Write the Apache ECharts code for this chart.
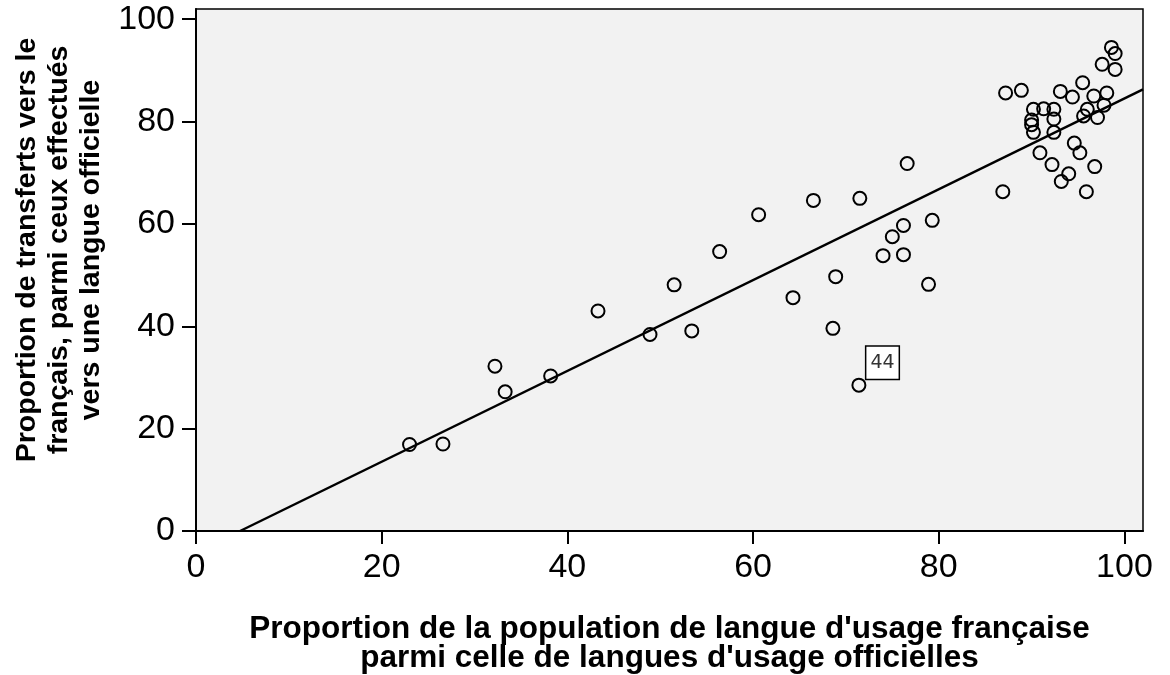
<!DOCTYPE html>
<html>
<head>
<meta charset="utf-8">
<script src="https://cdn.jsdelivr.net/npm/echarts@6/dist/echarts.min.js"></script>
<style>
  html, body { margin: 0; padding: 0; background: #fff; }
  #chart { width: 1170px; height: 675px; }
</style>
</head>
<body>
<div id="chart"></div>
<script>
// proportion de langue d'usage française (x) et transferts vers le français (y)
var pointsX = [23.0, 26.6, 32.2, 33.3, 38.2, 43.3, 48.9, 51.5, 53.4, 56.4,
  60.6, 64.3, 66.5, 68.6, 68.9, 71.5, 71.4, 74.0, 75.0, 76.2,
  76.2, 76.6, 78.9, 79.3, 86.9, 87.2, 88.9, 90.0, 90.0, 90.2,
  90.2, 90.9, 91.3, 92.2, 92.4, 92.4, 92.4, 93.1, 93.2, 94.0,
  94.4, 94.6, 95.2, 95.5, 95.6, 95.9, 96.0, 96.7, 96.8, 97.1,
  97.6, 97.8, 98.1, 98.6, 99.0, 99.0];
var pointsY = [16.9, 17.0, 32.2, 27.2, 30.3, 43.0, 38.4, 48.1, 39.1, 54.6,
  61.8, 45.6, 64.6, 39.6, 49.7, 65.0, 28.5, 53.8, 57.5, 59.7,
  54.0, 71.8, 48.2, 60.7, 66.3, 85.6, 86.1, 80.3, 79.4, 77.9,
  82.4, 73.9, 82.5, 71.6, 82.4, 80.5, 77.9, 85.9, 68.3, 69.8,
  84.8, 75.8, 73.9, 87.6, 81.1, 66.3, 82.4, 85.0, 71.2, 80.8,
  91.2, 83.2, 85.6, 94.5, 93.3, 90.2];
// point étiqueté (numéro de cas)
var labelIndex = [16];
var labelText = ['44'];
// droite d'ajustement (extrémités)
var fitX = [4.75, 102];
var fitY = [0, 86.3];
var tickValues = [0, 20, 40, 60, 80, 100];

var myChart = echarts.init(document.getElementById('chart'));

var scatterData = pointsX.map(function (x, i) {
  var k = labelIndex.indexOf(i);
  if (k < 0) return [x, pointsY[i]];
  return {
    value: [x, pointsY[i]],
    label: {
      show: true,
      formatter: labelText[k],
      position: [15, -31],
      color: '#333',
      fontSize: 19,
      fontFamily: 'DejaVu Sans',
      backgroundColor: '#fff',
      borderColor: '#000',
      borderWidth: 1.5,
      padding: [7, 4, 6, 4]
    }
  };
});

var fitData = fitX.map(function (x, i) { return [x, fitY[i]]; });

var axisFont = { fontFamily: 'Liberation Sans', fontSize: 34, color: '#000' };

var option = {
  animation: false,
  backgroundColor: '#fff',
  grid: {
    left: 196, top: 9, right: 27, bottom: 144,
    outerBoundsMode: 'none',
    containLabel: false,
    show: true,
    backgroundColor: '#f2f2f2',
    borderColor: '#000',
    borderWidth: 1.5
  },
  xAxis: {
    type: 'value',
    min: 0, max: 102,
    name: "Proportion de la population de langue d'usage française\nparmi celle de langues d'usage officielles",
    nameLocation: 'middle',
    nameGap: 84,
    nameTextStyle: { fontFamily: 'Liberation Sans', fontSize: 31.5, fontWeight: 'bold', color: '#000', lineHeight: 29 },
    axisLine: { show: true, lineStyle: { color: '#000', width: 2 } },
    axisTick: { show: true, length: 13, lineStyle: { color: '#000', width: 2 }, customValues: tickValues },
    axisLabel: Object.assign({ margin: 20, customValues: tickValues }, axisFont),
    splitLine: { show: false }
  },
  yAxis: {
    type: 'value',
    min: 0, max: 102,
    name: 'Proportion de transferts vers le\nfrançais, parmi ceux effectués\nvers une langue officielle',
    nameLocation: 'middle',
    nameGap: 88,
    nameTextStyle: { fontFamily: 'Liberation Sans', fontSize: 28.5, fontWeight: 'bold', color: '#000', lineHeight: 32, padding: [0, 0, 0, 40] },
    axisLine: { show: true, lineStyle: { color: '#000', width: 2 } },
    axisTick: { show: true, length: 14, lineStyle: { color: '#000', width: 2 }, customValues: tickValues },
    axisLabel: Object.assign({ margin: 21, customValues: tickValues }, axisFont),
    splitLine: { show: false }
  },
  series: [
    {
      type: 'line',
      data: fitData,
      showSymbol: false,
      lineStyle: { color: '#000', width: 2.5 },
      z: 2
    },
    {
      type: 'scatter',
      data: scatterData,
      symbol: 'circle',
      symbolSize: 13,
      itemStyle: { color: 'rgba(0,0,0,0)', borderColor: '#000', borderWidth: 2, opacity: 1 },
      z: 3
    }
  ]
};

myChart.setOption(option);
window.addEventListener('resize', function () { myChart.resize(); });
</script>
</body>
</html>
